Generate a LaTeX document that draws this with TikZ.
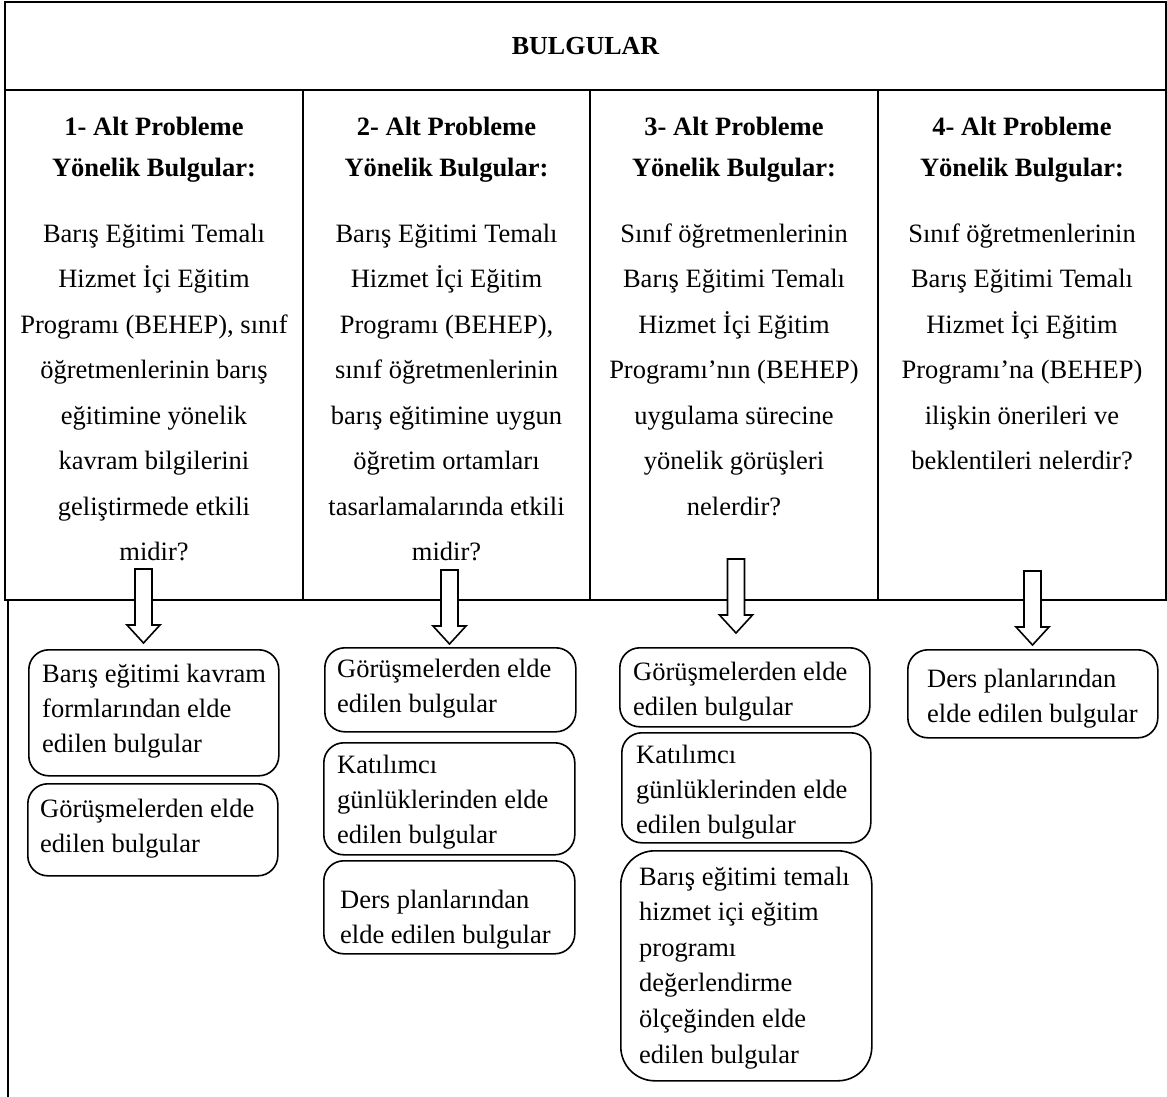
\documentclass[tikz,border=0pt]{standalone}
\usepackage{fontspec}
\setmainfont{Liberation Serif}
\usetikzlibrary{calc}
% hollow block arrow pointing down, #1 = centre of its top edge
\newcommand\blockdown[1]{%
  \draw[hollow] ($(#1)+(-8.5,0)$) -- ++(0,56) -- ++(-8,0) -- ($(#1)+(0,74)$)
    -- ++(16.5,-18) -- ++(-8,0) -- ++(0,-56) -- cycle;}
\begin{document}
\begin{tikzpicture}[x=1pt,y=-1pt,
  frame/.style={line width=2pt, line cap=rect},
  title/.style={font=\fontsize{26}{30}\selectfont\bfseries, inner sep=0, anchor=base},
  head/.style={font=\fontsize{26.5}{41}\selectfont\bfseries, align=center, inner sep=0, anchor=base},
  body/.style={font=\fontsize{26.5}{45.5}\selectfont, align=center, inner sep=0, anchor=base},
  rbox/.style={draw, line width=1.6pt, rounded corners=20pt, inner sep=0, anchor=north west},
  btext/.style={font=\fontsize{26.5}{35}\selectfont, align=left, inner sep=0, anchor=base west},
  hollow/.style={draw, line width=1.6pt, fill=white, line join=miter},
]
\useasboundingbox (0,0) rectangle (1167,1097);

% table frame
\draw[frame] (5,2) rectangle (1166,600);
\draw[frame] (5,90) -- (1166,90);
\foreach \x in {303,590,878} \draw[frame] (\x,90) -- (\x,600);
\draw[frame] (8,600) -- (8,1097);

\node[title] (title) at (585.5,55) {BULGULAR};

% column headings (anchored at the baseline of their last line)
\node[head] (h1) at (154,176) {1- Alt Probleme\\Yönelik Bulgular:};
\node[head] (h2) at (446.5,176) {2- Alt Probleme\\Yönelik Bulgular:};
\node[head] (h3) at (734,176) {3- Alt Probleme\\Yönelik Bulgular:};
\node[head] (h4) at (1022,176) {4- Alt Probleme\\Yönelik Bulgular:};

% research questions
\node[body] (q1) at (154,560.5) {Barış Eğitimi Temalı\\Hizmet İçi Eğitim\\Programı (BEHEP), sınıf\\öğretmenlerinin barış\\eğitimine yönelik\\kavram bilgilerini\\geliştirmede etkili\\midir?};
\node[body] (q2) at (446.5,560.5) {Barış Eğitimi Temalı\\Hizmet İçi Eğitim\\Programı (BEHEP),\\sınıf öğretmenlerinin\\barış eğitimine uygun\\öğretim ortamları\\tasarlamalarında etkili\\midir?};
\node[body] (q3) at (734,515) {Sınıf öğretmenlerinin\\Barış Eğitimi Temalı\\Hizmet İçi Eğitim\\Programı’nın (BEHEP)\\uygulama sürecine\\yönelik görüşleri\\nelerdir?};
\node[body] (q4) at (1022,469.5) {Sınıf öğretmenlerinin\\Barış Eğitimi Temalı\\Hizmet İçi Eğitim\\Programı’na (BEHEP)\\ilişkin önerileri ve\\beklentileri nelerdir?};

% arrows
\coordinate (a1) at (143.5,569);
\coordinate (a2) at (449.5,570);
\coordinate (a3) at (736,559);
\coordinate (a4) at (1032.5,571);
\blockdown{a1}
\blockdown{a2}
\blockdown{a3}
\blockdown{a4}

% column 1 findings
\node[rbox, minimum width=250, minimum height=126] (bA) at (28,649) {};
\node[btext] (tA) at (42,752) {Barış eğitimi kavram\\formlarından elde\\edilen bulgular};
\node[rbox, minimum width=250, minimum height=92] (bB) at (27,783) {};
\node[btext] (tB) at (40,852) {Görüşmelerden elde\\edilen bulgular};

% column 2 findings
\node[rbox, minimum width=251, minimum height=84] (bC) at (324,647) {};
\begin{scope}
  \clip (324,647) rectangle (575,717);
  \node[btext] (tC) at (337,712) {Görüşmelerden elde\\edilen bulgular};
\end{scope}
\node[rbox, minimum width=251, minimum height=112] (bD) at (323,742) {};
\node[btext] (tD) at (337,843) {Katılımcı\\günlüklerinden elde\\edilen bulgular};
\node[rbox, minimum width=251, minimum height=93] (bE) at (323,860) {};
\node[btext] (tE) at (340,943) {Ders planlarından\\elde edilen bulgular};

% column 3 findings
\node[rbox, minimum width=250, minimum height=79] (bF) at (619,647) {};
\node[btext] (tF) at (633,715) {Görüşmelerden elde\\edilen bulgular};
\node[rbox, minimum width=249, minimum height=110] (bG) at (621,732) {};
\node[btext] (tG) at (636,833) {Katılımcı\\günlüklerinden elde\\edilen bulgular};
\node[rbox, minimum width=251, minimum height=230, rounded corners=34pt] (bH) at (620,850) {};
\node[btext, font=\fontsize{26.5}{35.6}\selectfont] (tH) at (639,1063) {Barış eğitimi temalı\\hizmet içi eğitim\\programı\\değerlendirme\\ölçeğinden elde\\edilen bulgular};

% column 4 findings
\node[rbox, minimum width=250, minimum height=88] (bI) at (907,649) {};
\node[btext] (tI) at (927,722) {Ders planlarından\\elde edilen bulgular};
\end{tikzpicture}
\end{document}
